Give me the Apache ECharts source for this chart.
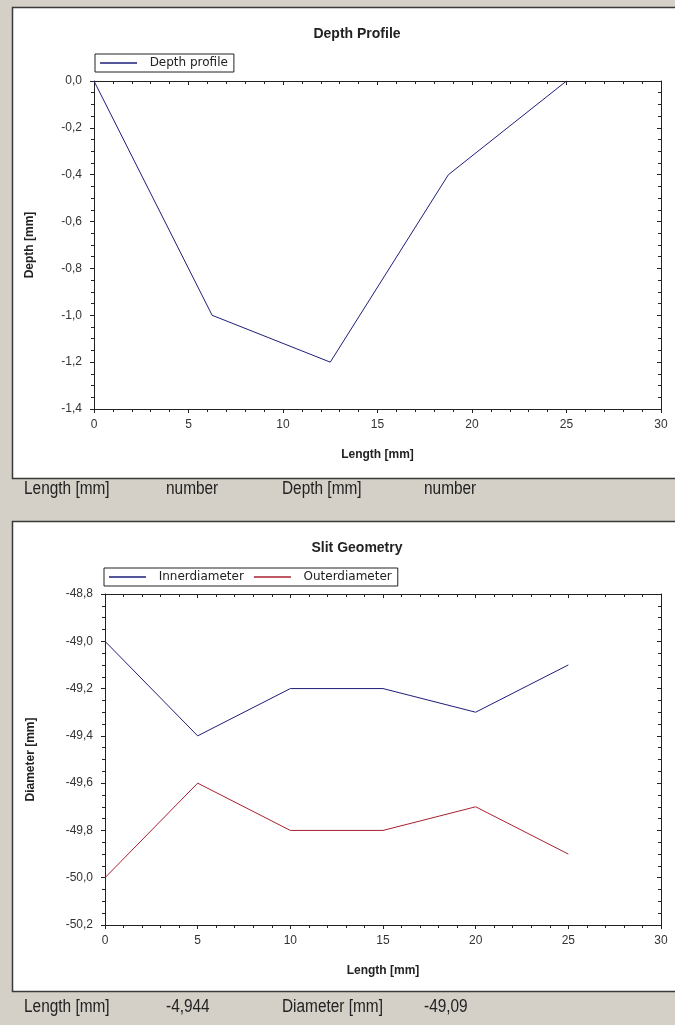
<!DOCTYPE html>
<html>
<head>
<meta charset="utf-8">
<script src="https://cdn.jsdelivr.net/npm/echarts@6/dist/echarts.min.js"></script>
<style>
html,body{margin:0;padding:0;background:#d4d0c8;}
#c{width:675px;height:1025px;}
</style>
</head>
<body>
<div id="c"></div>
<script>
// ---- data ----
const depthLength = [0, 6.25, 12.5, 18.75, 25];
const depthValues = [0, -1.0, -1.2, -0.4, 0];
const slitLength = [0, 5, 10, 15, 20, 25];
const innerDiameter = [-49.0, -49.4, -49.2, -49.2, -49.3, -49.1];
const outerDiameter = [-50.0, -49.6, -49.8, -49.8, -49.7, -49.9];
const topStatus = ['Length [mm]', 'number', 'Depth [mm]', 'number'];
const bottomStatus = ['Length [mm]', '-4,944', 'Diameter [mm]', '-49,09'];

const chart = echarts.init(document.getElementById('c'), null, {renderer: 'canvas'});
const FONT = 'Liberation Sans, Arial, sans-serif';
const LEGFONT = 'DejaVu Sans, Liberation Sans, sans-serif';
const comma = v => (Math.round(v * 10) / 10).toFixed(1).replace('.', ',');

function pairs(xs, ys) { return xs.map((x, i) => [x, ys[i]]); }

function xAxisPair(gridIndex) {
  return [
    {
      type: 'value', gridIndex, position: 'bottom', min: 0, max: 30, interval: 5,
      name: 'Length [mm]', nameLocation: 'middle', nameGap: 40,
      nameTextStyle: {fontFamily: FONT, fontWeight: 'bold', fontSize: 12, color: '#222'},
      axisLine: {show: true, onZero: false, lineStyle: {color: '#222', width: 1}},
      axisTick: {show: true, inside: false, length: 4, lineStyle: {color: '#222'}},
      minorTick: {show: true, splitNumber: 5, length: 3, lineStyle: {color: '#222'}},
      axisLabel: {fontFamily: FONT, fontSize: 12, color: '#333', margin: 10},
      splitLine: {show: false}, minorSplitLine: {show: false}
    },
    {
      type: 'value', gridIndex, position: 'top', min: 0, max: 30, interval: 5,
      axisLine: {show: true, onZero: false, lineStyle: {color: '#222', width: 1}},
      axisTick: {show: true, inside: true, length: 4, lineStyle: {color: '#222'}},
      minorTick: {show: true, splitNumber: 5, length: 3, lineStyle: {color: '#222'}},
      axisLabel: {show: false},
      splitLine: {show: false}
    }
  ];
}

function yAxisPair(gridIndex, min, max, name, nameGap) {
  return [
    {
      type: 'value', gridIndex, position: 'left', min, max, interval: 0.2,
      name, nameLocation: 'middle', nameGap, nameRotate: 90,
      nameTextStyle: {fontFamily: FONT, fontWeight: 'bold', fontSize: 12, color: '#222'},
      axisLine: {show: true, onZero: false, lineStyle: {color: '#222', width: 1}},
      axisTick: {show: true, inside: false, length: 4, lineStyle: {color: '#222'}},
      minorTick: {show: true, splitNumber: 4, length: 3, lineStyle: {color: '#222'}},
      axisLabel: {fontFamily: FONT, fontSize: 12, color: '#333', margin: 12, formatter: comma},
      splitLine: {show: false}
    },
    {
      type: 'value', gridIndex, position: 'right', min, max, interval: 0.2,
      axisLine: {show: true, onZero: false, lineStyle: {color: '#222', width: 1}},
      axisTick: {show: true, inside: true, length: 4, lineStyle: {color: '#222'}},
      minorTick: {show: true, splitNumber: 4, length: 3, lineStyle: {color: '#222'}},
      axisLabel: {show: false},
      splitLine: {show: false}
    }
  ];
}

const statusX = [24, 166, 282, 424];
function statusTexts(texts, y) {
  return texts.map((t, i) => ({
    type: 'text', x: statusX[i], y: y, z: 10, scaleX: 0.88,
    style: {text: t, fontFamily: FONT, fontSize: 17.5, fill: '#222', textVerticalAlign: 'middle'}
  }));
}

const legendCommon = {
  orient: 'horizontal', icon: 'rect', itemWidth: 37, itemHeight: 1.5, itemGap: 10,
  borderColor: '#222', borderWidth: 1, padding: [3, 6, 3, 5],
  formatter: n => '  ' + n,
  textStyle: {fontFamily: LEGFONT, fontSize: 12, color: '#222'}
};

const option = {
  animation: false,
  backgroundColor: '#d4d0c8',
  graphic: [
    {type: 'rect', shape: {x: 12.5, y: 7.5, width: 680, height: 471}, style: {fill: '#ffffff', stroke: '#3a3a3a', lineWidth: 1.5}, z: -10},
    {type: 'rect', shape: {x: 12.5, y: 521.5, width: 680, height: 470}, style: {fill: '#ffffff', stroke: '#3a3a3a', lineWidth: 1.5}, z: -10},
    ...statusTexts(topStatus, 489),
    ...statusTexts(bottomStatus, 1007)
  ],
  title: [
    {text: 'Depth Profile', left: 352, top: 22, textAlign: 'center',
     textStyle: {fontFamily: FONT, fontWeight: 'bold', fontSize: 14, color: '#222'}},
    {text: 'Slit Geometry', left: 352, top: 536, textAlign: 'center',
     textStyle: {fontFamily: FONT, fontWeight: 'bold', fontSize: 14, color: '#222'}}
  ],
  legend: [
    Object.assign({}, legendCommon, {data: ['Depth profile'], left: 95, top: 54}),
    Object.assign({}, legendCommon, {data: ['Innerdiameter', 'Outerdiameter'], left: 104, top: 568})
  ],
  grid: [
    {left: 94, right: 14, top: 81, height: 328},
    {left: 105, right: 14, top: 594, height: 331}
  ],
  xAxis: [...xAxisPair(0), ...xAxisPair(1)],
  yAxis: [...yAxisPair(0, -1.4, 0, 'Depth [mm]', 58), ...yAxisPair(1, -50.2, -48.8, 'Diameter [mm]', 68)],
  series: [
    {name: 'Depth profile', type: 'line', xAxisIndex: 0, yAxisIndex: 0, data: pairs(depthLength, depthValues),
     symbol: 'none', lineStyle: {color: '#1e1e78', width: 1}, itemStyle: {color: '#1e1e78'}},
    {name: 'Innerdiameter', type: 'line', xAxisIndex: 2, yAxisIndex: 2, data: pairs(slitLength, innerDiameter),
     symbol: 'none', lineStyle: {color: '#1e1e78', width: 1}, itemStyle: {color: '#1e1e78'}},
    {name: 'Outerdiameter', type: 'line', xAxisIndex: 2, yAxisIndex: 2, data: pairs(slitLength, outerDiameter),
     symbol: 'none', lineStyle: {color: '#a82030', width: 1}, itemStyle: {color: '#a82030'}}
  ]
};
chart.setOption(option);
</script>
</body>
</html>
